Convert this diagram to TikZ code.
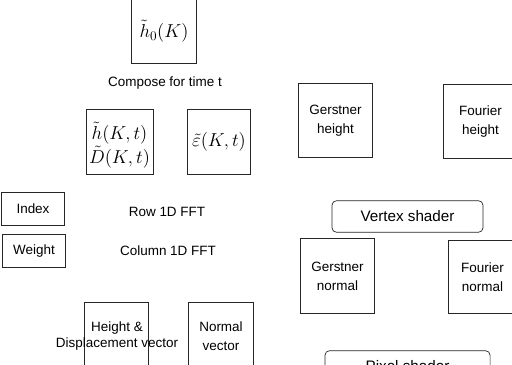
\documentclass[tikz,border=0pt]{standalone}
\usepackage{fix-cm}
\usepackage{fontspec}
\setmainfont{Liberation Sans}
\usetikzlibrary{positioning}

\tikzset{
  box/.style={draw=black!85, line width=0.6pt, inner sep=1pt, align=center,
    font=\fontsize{11.5}{16}\selectfont},
  shader/.style={box, rounded corners=4pt, minimum width=129, minimum height=27,
    font=\fontsize{13}{15}\selectfont},
  lbl/.style={font=\fontsize{11.5}{14}\selectfont, align=center},
  mbox/.style={box, font=\fontsize{16}{20}\selectfont}
}

\begin{document}
\begin{tikzpicture}[x=0.03cm, y=-0.03cm]
  \useasboundingbox (0,0) rectangle (512,364);
  \clip (0,0) rectangle (512,364);
  \fill[white] (0,0) rectangle (512,364);

  % spectrum side
  \node[mbox, minimum width=56, minimum height=55] (hzero) at (164,31) {$\tilde{h}_0(K)$};
  \node[lbl] (compose) at (165,83) {Compose for time t};
  \node[mbox, minimum width=57, minimum height=55, inner sep=0pt] (hdkt) at (119.5,142)
    {\rule{0pt}{20pt}$\tilde{h}(K,t)$\\$\tilde{D}(K,t)$};
  \node[mbox, minimum width=54, minimum height=55, inner sep=0pt] (ekt) at (219,142) {$\tilde{\varepsilon}(K,t)$};

  \node[box, minimum width=54, minimum height=28] (index) at (33,209) {Index};
  \node[box, minimum width=54, minimum height=28] (weight) at (34,251) {Weight};
  \node[lbl] (rowfft) at (167,212) {Row 1D FFT};
  \node[lbl] (colfft) at (168,251) {Column 1D FFT};

  % results (run past the lower edge)
  \node[box, minimum width=55, minimum height=62] (hdvec) at (116.5,339) {};
  \node[lbl] (hdtext) at (117,336) {Height \&\\Displacement vector};
  \node[box, minimum width=56, minimum height=58] (nvec) at (221,336) {Normal\\vector};

  % shader side
  \node[box, minimum width=63, minimum height=63] (gheight) at (335.5,120.5) {Gerstner\\height};
  \node[box, minimum width=63, minimum height=63] (fheight) at (480.5,121.5) {Fourier\\height};
  \node[shader] (vshader) at (407.5,216.5) {Vertex shader};
  \node[box, minimum width=63, minimum height=64] (gnormal) at (337.5,276) {Gerstner\\normal};
  \node[box, minimum width=59, minimum height=62] (fnormal) at (482.5,277) {Fourier\\normal};
  \node[shader, minimum width=141] (pshader) at (407.5,366.5) {Pixel shader};
\end{tikzpicture}
\end{document}
